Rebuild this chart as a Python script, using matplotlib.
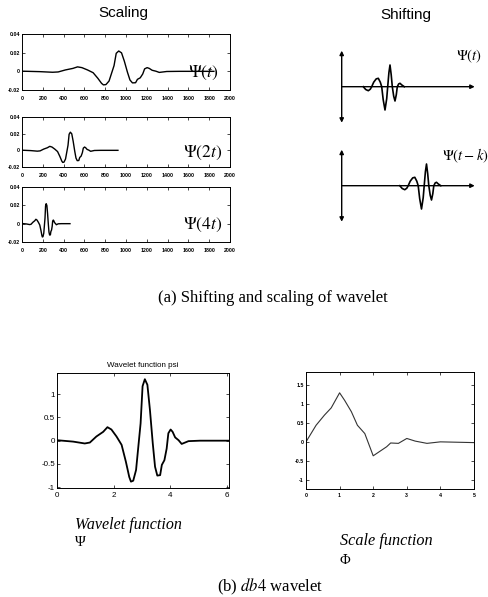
import matplotlib
matplotlib.use("Agg")
import matplotlib.pyplot as plt
import numpy as np

plt.rcParams["mathtext.fontset"] = "stix"

W, H = 489, 597

# db4 wavelet psi (x in [0, ~6], amplitude)
psi_x = [0, 0.57, 0.98, 1.16, 1.39, 1.63, 1.78, 1.92, 2.10, 2.28, 2.43, 2.55,
         2.61, 2.69, 2.79, 2.87, 2.95, 3.02, 3.10, 3.19, 3.28, 3.38, 3.46,
         3.54, 3.64, 3.70, 3.79, 3.87, 3.93, 4.01, 4.08, 4.17, 4.29, 4.40,
         4.52, 4.64, 5.05, 6.15]
psi_y = [0.01, -0.02, -0.06, -0.04, 0.09, 0.19, 0.29, 0.24, 0.09, -0.09,
         -0.45, -0.78, -0.88, -0.86, -0.63, -0.13, 0.37, 1.17, 1.32, 1.20,
         0.66, -0.06, -0.56, -0.75, -0.74, -0.52, -0.42, -0.17, 0.16, 0.24,
         0.19, 0.07, 0.01, -0.07, -0.04, -0.01, 0.0, 0.0]

# scale function phi
phi_x = [0, 0.3, 0.55, 0.75, 1.0, 1.15, 1.35, 1.53, 1.75, 2.0, 2.2, 2.4,
         2.52, 2.75, 3.0, 3.25, 3.6, 4.0, 5.0]
phi_y = [0, 0.44, 0.71, 0.9, 1.3, 1.1, 0.8, 0.44, 0.22, -0.37, -0.25, -0.13,
         -0.03, -0.04, 0.09, 0.02, -0.04, 0.0, -0.02]

# scaling panels: samples per unit of psi, and amplitude factor
scale_steps = [300, 150, 75]
scale_labels = [r"$\Psi(t)$", r"$\Psi(2t)$", r"$\Psi(4t)$"]
scale_amp = 0.0165

# hand-drawn wavelet for the shifting sketch
sketch_x = [21.6, 24, 26.6, 28.6, 30, 32, 34.5, 36.6, 38.6, 40, 41.5, 43.3,
            45, 46, 47.2, 48.3, 49.5, 50.6, 52, 53.3, 54.6, 55.6, 57, 58.3,
            60, 62.6]
sketch_y = [0, -2.8, -4, -2.5, 0, 4.5, 7.8, 8.4, 4.5, 0, -13, -23.3, -12, 0,
            14, 21.7, 12, 0, -9.5, -14.3, -8, 0, 2.8, 3.4, 1.8, 0]
shift_k = 36.5


def box(l, t, r, b):
    return [l / W, 1 - b / H, (r - l) / W, (b - t) / H]


def px(x, y):
    return x / W, 1 - y / H


def matlab_ticks(ax, size, bold=False, xpad=1.5):
    ax.tick_params(direction="in", length=2, width=0.5, top=True, right=True,
                   labelsize=size, pad=1.5)
    ax.tick_params(axis="x", pad=xpad)
    for lab in ax.get_xticklabels() + ax.get_yticklabels():
        lab.set_fontfamily("Liberation Sans")
        if bold:
            lab.set_fontweight("bold")
    for s in ax.spines.values():
        s.set_linewidth(0.7)


fig = plt.figure(figsize=(W / 100, H / 100), dpi=100)

# --- Scaling ---
panel_rows = [(34, 90), (117, 167), (187, 242)]
psi_x_arr = np.array(psi_x)
psi_y_arr = np.array(psi_y)
for (top, bot), step, label in zip(panel_rows, scale_steps, scale_labels):
    ax = fig.add_axes(box(22, top, 230, bot))
    ax.plot(psi_x_arr * step, psi_y_arr * scale_amp, color="black", lw=1.0)
    ax.set_xlim(0, 2000)
    ax.set_ylim(-0.02, 0.04)
    ax.set_xticks(range(0, 2001, 200))
    ax.set_yticks([-0.02, 0, 0.02, 0.04])
    ax.set_yticklabels(["-0.02", "0", "0.02", "0.04"])
    matlab_ticks(ax, 3.8, bold=True, xpad=4)
    x, y = px(203, (top + bot) / 2 + (72 - 61.5))
    fig.text(x, y, label, fontsize=12.5, ha="center", va="center")

fig.text(*px(123, 13), "Scaling", fontsize=11, family="Liberation Sans",
         ha="center", va="center")
fig.text(*px(406, 15), "Shifting", fontsize=11, family="Liberation Sans",
         ha="center", va="center")

# --- Shifting sketches ---
sx = np.array(sketch_x)
sy = np.array(sketch_y)
for axis_y, offset, label, lx in [(86.7, 0, r"$\Psi(t)$", 469),
                                  (185.7, shift_k, r"$\Psi(t-k)$", 442)]:
    ax = fig.add_axes(box(336.7, axis_y - 40, 481.7, axis_y + 40))
    ax.set_xlim(-5, 140)
    ax.set_ylim(-40, 40)
    ax.axis("off")
    ax.annotate("", xy=(0, 36), xytext=(0, -36),
                arrowprops=dict(arrowstyle="<|-|>", lw=1.0, color="black",
                                mutation_scale=6, shrinkA=0, shrinkB=0))
    ax.annotate("", xy=(133, 0), xytext=(0, 0),
                arrowprops=dict(arrowstyle="-|>", lw=1.0, color="black",
                                mutation_scale=6, shrinkA=0, shrinkB=0))
    ax.plot(sx + offset, sy, color="black", lw=1.2)
    ha = "center" if offset == 0 else "left"
    fig.text(*px(lx, axis_y - 30), label, fontsize=10.5, ha=ha, va="center")

fig.text(*px(273, 298), "(a) Shifting and scaling of wavelet", fontsize=12,
         family="Liberation Serif", ha="center", va="center")

# --- db4 wavelet function ---
ax = fig.add_axes(box(57, 372.7, 229, 487.7))
ax.plot(psi_x, psi_y, color="black", lw=1.3)
ax.set_xlim(0, 6.07)
ax.set_ylim(-1.01, 1.46)
ax.set_xticks([0, 2, 4, 6])
ax.set_yticks([-1, -0.5, 0, 0.5, 1])
ax.set_yticklabels(["-1", "-0.5", "0", "0.5", "1"])
matlab_ticks(ax, 5.8, xpad=3)
ax.set_title("Wavelet function psi", fontsize=5.8, family="Liberation Sans",
             pad=4)

# --- scale function ---
ax = fig.add_axes(box(306, 371.7, 474, 489))
ax.plot(phi_x, phi_y, color="#333333", lw=0.8)
ax.set_xlim(0, 5)
ax.set_ylim(-1.25, 1.86)
ax.set_xticks(range(0, 6))
ax.set_yticks([-1, -0.5, 0, 0.5, 1, 1.5])
ax.set_yticklabels(["-1", "-0.5", "0", "0.5", "1", "1.5"])
matlab_ticks(ax, 3.8, bold=True, xpad=3)

fig.text(*px(75, 525), "Wavelet function", fontsize=11.5, style="italic",
         family="Liberation Serif", ha="left", va="center")
fig.text(*px(75, 543), "\u03a8", fontsize=10.5, family="Liberation Serif",
         ha="left", va="center")
fig.text(*px(340, 541), "Scale function", fontsize=11.7, style="italic",
         family="Liberation Serif", ha="left", va="center")
fig.text(*px(340, 560), "\u03a6", fontsize=10.5, family="Liberation Serif",
         ha="left", va="center")

fig.text(*px(270, 587), "(b) $\\it{db4}$ wavelet", fontsize=12,
         family="Liberation Serif", ha="center", va="center")

fig.savefig("out.png", dpi=100)
